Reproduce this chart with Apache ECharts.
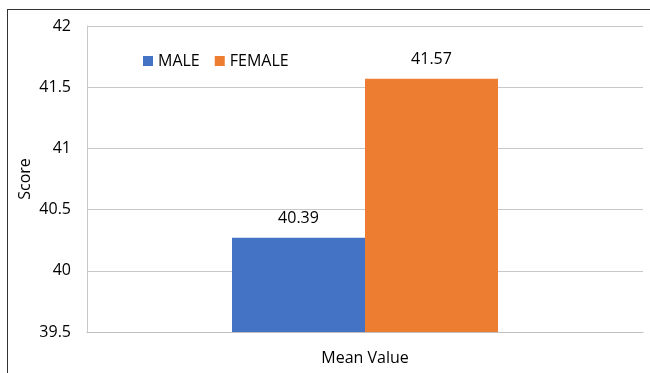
<!DOCTYPE html>
<html>
<head>
<meta charset="utf-8">
<script src="https://cdn.jsdelivr.net/npm/echarts@6/dist/echarts.min.js"></script>
<style>
  body { margin: 0; background: #fff; }
  #wrap { position: relative; width: 650px; height: 373px; }
  #chart { width: 650px; height: 373px; }
  #frame { position: absolute; left: 7px; top: 9px; right: 0; bottom: 0; border-left: 1px solid #333; border-top: 1px solid #333; pointer-events: none; }
</style>
</head>
<body>
<div id="wrap">
  <div id="chart"></div>
  <div id="frame"></div>
</div>
<script>
const categories = ['Mean Value']
const seriesNames = ['MALE', 'FEMALE']
const maleValues = [40.27]
const femaleValues = [41.57]
const valueLabels = { MALE: ['40.39'], FEMALE: ['41.57'] }
const colors = ['#4472c4', '#ed7d31']

const chart = echarts.init(document.getElementById('chart'))
const font = 'Open Sans'

function makeSeries (name, values, color) {
  return {
    name: name,
    type: 'bar',
    data: values,
    barWidth: 133,
    barGap: '0%',
    itemStyle: { color: color },
    label: {
      show: true,
      position: 'top',
      distance: 11,
      color: '#000',
      fontFamily: font,
      fontSize: 16,
      formatter: function (p) {
        return valueLabels[name][p.dataIndex]
      }
    }
  }
}

chart.setOption({
  animation: false,
  textStyle: { fontFamily: font },
  legend: {
    data: seriesNames,
    left: 138,
    top: 48,
    icon: 'rect',
    itemWidth: 10,
    itemHeight: 10,
    itemGap: 15,
    textStyle: { color: '#000', fontSize: 16, fontFamily: font }
  },
  grid: { left: 87, right: 7, top: 26, bottom: 41 },
  xAxis: {
    type: 'category',
    data: categories,
    axisLine: { lineStyle: { color: '#bfbfbf' } },
    axisTick: { show: false },
    axisLabel: { color: '#000', fontSize: 16, margin: 18, fontFamily: font }
  },
  yAxis: {
    type: 'value',
    min: 39.5,
    max: 42,
    interval: 0.5,
    name: 'Score',
    nameLocation: 'middle',
    nameGap: 54,
    nameMoveOverlap: false,
    nameTextStyle: { color: '#000', fontSize: 16, fontFamily: font },
    axisLine: { show: true, lineStyle: { color: '#c8c8c8' } },
    axisTick: { show: false },
    axisLabel: { color: '#000', fontSize: 16, margin: 16, fontFamily: font },
    splitLine: { lineStyle: { color: '#c8c8c8', width: 1 } }
  },
  series: [
    makeSeries(seriesNames[0], maleValues, colors[0]),
    makeSeries(seriesNames[1], femaleValues, colors[1])
  ]
})
</script>
</body>
</html>
